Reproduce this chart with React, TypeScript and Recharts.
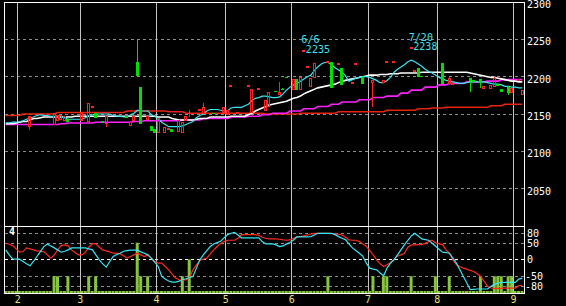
import React from 'react'
import { Bar, ComposedChart, Line, ReferenceArea, ReferenceDot, ReferenceLine, XAxis, YAxis } from 'recharts'

// first session of each month (index into the daily arrays) and its label
const monthLabels = ['2', '3', '4', '5', '6', '7', '8', '9']
const monthStarts = [4, 22, 44, 64, 83, 105, 125, 147]

const priceTicks = [2050, 2100, 2150, 2200, 2250, 2300]
const priceGrid = [2050, 2100, 2150, 2200, 2250]
const oscTicks = [80, 50, 0, -50, -80]

// moving averages, one value per session (150 sessions)
const cyanMA = [
  2138, 2138, 2139, 2139, 2140, 2141, 2143, 2145, 2146, 2148,
  2149, 2148, 2148, 2147, 2147, 2146, 2146, 2145, 2143, 2143,
  2143, 2143, 2143, 2145, 2148, 2149, 2150, 2150, 2150, 2150,
  2150, 2148, 2147, 2147, 2146, 2146, 2149, 2151, 2155, 2154,
  2154, 2154, 2149, 2147, 2144, 2139, 2136, 2133, 2133, 2133,
  2133, 2134, 2136, 2138, 2140, 2145, 2148, 2150, 2154, 2156,
  2156, 2156, 2155, 2154, 2154, 2158, 2159, 2159, 2159, 2161,
  2163, 2168, 2171, 2172, 2174, 2174, 2173, 2172, 2172, 2173,
  2177, 2182, 2186, 2189, 2191, 2194, 2197, 2200, 2202, 2208,
  2213, 2217, 2219, 2219, 2216, 2212, 2209, 2206, 2201, 2194,
  2196, 2198, 2199, 2200, 2200, 2199, 2197, 2195, 2192, 2192,
  2195, 2199, 2206, 2210, 2213, 2216, 2220, 2222, 2220, 2217,
  2214, 2210, 2207, 2205, 2202, 2199, 2197, 2195, 2194, 2193,
  2192, 2191, 2191, 2192, 2193, 2193, 2193, 2193, 2193, 2192,
  2191, 2190, 2190, 2189, 2187, 2187, 2186, 2186, 2185, 2185,
]
const whiteMA = [
  2137, 2137, 2137, 2138, 2139, 2140, 2140, 2142, 2144, 2144,
  2145, 2146, 2146, 2146, 2146, 2146, 2146, 2146, 2146, 2146,
  2147, 2147, 2147, 2147, 2147, 2147, 2147, 2147, 2147, 2147,
  2147, 2147, 2147, 2147, 2147, 2147, 2147, 2147, 2147, 2147,
  2147, 2147, 2147, 2147, 2146, 2146, 2146, 2146, 2144, 2143,
  2142, 2142, 2142, 2142, 2142, 2143, 2144, 2144, 2144, 2146,
  2146, 2146, 2146, 2146, 2146, 2147, 2147, 2147, 2147, 2147,
  2149, 2151, 2154, 2156, 2158, 2160, 2162, 2163, 2164, 2165,
  2166, 2167, 2169, 2171, 2172, 2174, 2177, 2179, 2181, 2183,
  2185, 2186, 2187, 2188, 2189, 2190, 2192, 2194, 2195, 2196,
  2197, 2198, 2199, 2200, 2201, 2202, 2202, 2202, 2203, 2203,
  2203, 2204, 2204, 2204, 2205, 2205, 2205, 2205, 2205, 2205,
  2206, 2206, 2206, 2206, 2206, 2206, 2206, 2206, 2206, 2206,
  2206, 2206, 2206, 2206, 2205, 2204, 2203, 2202, 2201, 2200,
  2199, 2199, 2198, 2197, 2196, 2195, 2194, 2194, 2193, 2193,
]
const magentaMA = [
  2136, 2136, 2136, 2136, 2136, 2136, 2136, 2136, 2136, 2136,
  2136, 2136, 2136, 2136, 2136, 2136, 2137, 2137, 2138, 2138,
  2138, 2138, 2138, 2138, 2138, 2138, 2139, 2139, 2139, 2139,
  2139, 2139, 2139, 2139, 2139, 2139, 2139, 2140, 2140, 2140,
  2141, 2141, 2141, 2141, 2141, 2141, 2141, 2141, 2141, 2141,
  2141, 2142, 2142, 2142, 2142, 2142, 2142, 2144, 2144, 2144,
  2144, 2144, 2144, 2144, 2144, 2146, 2146, 2146, 2146, 2146,
  2147, 2147, 2147, 2147, 2149, 2149, 2149, 2151, 2151, 2151,
  2151, 2151, 2154, 2154, 2154, 2154, 2157, 2157, 2157, 2157,
  2160, 2160, 2160, 2160, 2163, 2163, 2163, 2166, 2166, 2166,
  2166, 2166, 2169, 2169, 2169, 2169, 2172, 2172, 2172, 2172,
  2174, 2174, 2174, 2174, 2178, 2178, 2178, 2182, 2182, 2182,
  2182, 2186, 2186, 2186, 2186, 2189, 2189, 2189, 2191, 2191,
  2191, 2191, 2191, 2193, 2193, 2193, 2193, 2193, 2193, 2194,
  2194, 2194, 2194, 2196, 2196, 2196, 2196, 2196, 2196, 2196,
]
const redMA = [
  2148, 2148, 2148, 2148, 2148, 2150, 2150, 2150, 2150, 2150,
  2150, 2150, 2150, 2150, 2150, 2152, 2152, 2152, 2152, 2152,
  2152, 2152, 2152, 2152, 2152, 2152, 2152, 2152, 2152, 2152,
  2152, 2152, 2152, 2152, 2152, 2154, 2154, 2154, 2154, 2154,
  2154, 2154, 2154, 2154, 2154, 2154, 2154, 2153, 2153, 2153,
  2153, 2153, 2151, 2151, 2151, 2151, 2151, 2151, 2151, 2151,
  2151, 2151, 2151, 2151, 2151, 2151, 2151, 2151, 2151, 2151,
  2151, 2151, 2151, 2151, 2151, 2150, 2150, 2150, 2150, 2150,
  2150, 2150, 2150, 2150, 2150, 2151, 2151, 2151, 2151, 2151,
  2151, 2151, 2151, 2151, 2151, 2151, 2153, 2153, 2153, 2153,
  2153, 2153, 2153, 2153, 2153, 2153, 2153, 2153, 2153, 2153,
  2155, 2155, 2155, 2155, 2155, 2155, 2155, 2155, 2155, 2157,
  2157, 2157, 2157, 2158, 2158, 2158, 2158, 2159, 2159, 2159,
  2159, 2159, 2159, 2159, 2159, 2159, 2159, 2159, 2159, 2159,
  2161, 2161, 2161, 2161, 2163, 2163, 2163, 2163, 2163, 2163,
]

// sessions that actually traded
const candleDay = [
  7, 14, 15, 16, 17, 18, 22, 24, 25, 26, 28, 29, 35, 36, 37, 38, 39, 41, 42, 43,
  44, 46, 47, 48, 50, 51, 52, 53, 56, 57, 60, 63, 64, 65, 67, 70, 71, 73, 75, 76,
  78, 79, 80, 81, 83, 84, 85, 86, 87, 88, 89, 93, 94, 96, 97, 100, 101, 103, 106, 109,
  110, 112, 117, 118, 119, 120, 126, 128, 129, 134, 135, 137, 138, 140, 141, 142, 143, 145, 146, 148,
  149,
]
const candleOpen = [
  2133, 2135, 2141, 2142, 2140, 2143, 2141, 2139, 2159, 2151, 2141, 2137, 2147, 2134, 2141, 2220, 2186, 2142, 2134, 2130,
  2125, 2125, 2130, 2130, 2126, 2125, 2141, 2151, 2155, 2150, 2152, 2151, 2149, 2188, 2151, 2188, 2151, 2184, 2154, 2159,
  2181, 2176, 2184, 2199, 2182, 2197, 2182, 2235, 2213, 2186, 2198, 2220, 2220, 2216, 2212, 2192, 2217, 2200, 2192, 2192,
  2220, 2220, 2238, 2208, 2212, 2201, 2218, 2190, 2189, 2198, 2196, 2197, 2184, 2184, 2186, 2190, 2184, 2186, 2178, 2196,
  2176,
]
const candleHigh = [
  2147, 2151, 2149, 2149, 2147, 2143, 2153, 2165, 2159, 2151, 2141, 2147, 2147, 2139, 2147, 2250, 2186, 2147, 2134, 2130,
  2145, 2132, 2130, 2130, 2142, 2139, 2147, 2155, 2155, 2165, 2152, 2159, 2155, 2188, 2151, 2188, 2184, 2184, 2169, 2180,
  2181, 2193, 2185, 2199, 2197, 2197, 2200, 2235, 2213, 2198, 2218, 2220, 2220, 2218, 2212, 2192, 2217, 2200, 2196, 2196,
  2220, 2220, 2238, 2208, 2212, 2201, 2218, 2199, 2192, 2198, 2196, 2197, 2188, 2189, 2200, 2190, 2184, 2187, 2185, 2196,
  2182,
]
const candleLow = [
  2128, 2135, 2141, 2142, 2140, 2139, 2141, 2139, 2159, 2145, 2138, 2132, 2145, 2134, 2141, 2201, 2137, 2142, 2127, 2125,
  2125, 2125, 2130, 2126, 2126, 2125, 2141, 2146, 2155, 2150, 2151, 2151, 2149, 2188, 2151, 2188, 2151, 2184, 2154, 2159,
  2180, 2176, 2183, 2198, 2182, 2182, 2182, 2235, 2213, 2186, 2198, 2220, 2185, 2216, 2189, 2192, 2217, 2190, 2160, 2192,
  2220, 2220, 2238, 2208, 2200, 2200, 2190, 2189, 2189, 2180, 2193, 2185, 2184, 2184, 2186, 2188, 2180, 2176, 2178, 2196,
  2176,
]
const candleClose = [
  2147, 2151, 2149, 2149, 2147, 2139, 2151, 2165, 2159, 2145, 2138, 2147, 2145, 2139, 2147, 2201, 2137, 2147, 2127, 2125,
  2145, 2132, 2130, 2126, 2142, 2139, 2147, 2152, 2155, 2159, 2151, 2159, 2155, 2188, 2151, 2188, 2184, 2184, 2169, 2180,
  2180, 2180, 2183, 2198, 2197, 2182, 2200, 2235, 2213, 2198, 2218, 2220, 2185, 2218, 2189, 2192, 2217, 2190, 2196, 2196,
  2220, 2220, 2238, 2208, 2200, 2200, 2190, 2198, 2192, 2194, 2193, 2192, 2188, 2189, 2198, 2188, 2180, 2178, 2185, 2196,
  2182,
]

// annotated highs
const markDay = [86, 117]
const markDate = ['6/6', '7/20']
const markPrice = [2235, 2238]

// lower panel
const oscCyan = [
  30, 15, 3, 2, 2, -5, -12, -18, -5, 10,
  25, 40, 48, 42, 36, 30, 23, 26, 30, 36,
  36, 36, 36, 36, 33, 30, 15, 0, -12, -22,
  -5, 10, 16, 20, 26, 28, 29, 29, 29, 24,
  20, 15, 5, -8, -20, -50, -58, -64, -67, -67,
  -64, -60, -57, -54, -50, -25, 0, 15, 28, 40,
  48, 52, 56, 66, 76, 80, 83, 75, 66, 66,
  66, 66, 66, 66, 55, 48, 48, 48, 45, 40,
  42, 48, 52, 60, 69, 69, 69, 69, 70, 75,
  80, 80, 80, 80, 80, 76, 70, 65, 61, 48,
  36, 28, 20, 11, -10, -25, -28, -30, -40, -48,
  -25, -10, 0, 15, 30, 45, 59, 72, 80, 72,
  63, 61, 59, 50, 41, 32, 23, 22, 20, 5,
  -10, -30, -50, -70, -90, -89, -88, -88, -88, -88,
  -80, -74, -70, -68, -68, -68, -68, -68, -58, -55,
]
const oscRed = [
  50, 47, 43, 33, 23, 25, 36, 33, 30, 27,
  26, 25, 15, 5, 15, 30, 43, 45, 42, 30,
  22, 15, 15, 23, 38, 49, 48, 38, 30, 27,
  24, 20, 20, 18, 12, 5, 10, 15, 20, 15,
  10, 15, 5, -5, -10, -10, -20, -30, -43, -55,
  -60, -62, -60, -55, -30, -15, -2, 2, 5, 18,
  30, 40, 49, 55, 59, 59, 59, 65, 76, 76,
  76, 76, 76, 74, 68, 65, 63, 63, 63, 62,
  60, 59, 60, 65, 69, 70, 72, 75, 78, 80,
  80, 80, 80, 80, 79, 78, 77, 75, 68, 60,
  59, 59, 55, 48, 41, 28, 15, 0, -12, -20,
  -15, -8, 2, 11, 15, 20, 38, 45, 45, 46,
  46, 50, 55, 59, 51, 48, 46, 30, 20, 0,
  -15, -20, -25, -28, -32, -35, -42, -50, -65, -80,
  -85, -86, -86, -86, -85, -85, -85, -85, -78, -76,
]
const volume = [
  3, 3, 3, 3, 3, 3, 3, 3, 3, 3,
  3, 3, 3, 3, 25, 25, 3, 3, 25, 3,
  3, 3, 3, 3, 25, 3, 25, 3, 3, 3,
  3, 3, 3, 3, 3, 3, 3, 3, 75, 25,
  3, 25, 3, 3, 3, 3, 3, 3, 3, 3,
  3, 25, 3, 50, 3, 3, 3, 3, 3, 3,
  3, 3, 3, 3, 3, 3, 3, 3, 3, 3,
  3, 3, 3, 3, 3, 3, 3, 3, 3, 3,
  3, 3, 3, 3, 3, 3, 3, 3, 3, 3,
  3, 3, 3, 25, 3, 3, 3, 3, 3, 3,
  3, 3, 3, 3, 3, 3, 25, 3, 3, 25,
  25, 3, 3, 3, 3, 3, 3, 25, 3, 3,
  3, 3, 3, 3, 25, 3, 3, 3, 25, 3,
  3, 3, 3, 3, 3, 3, 3, 25, 3, 3,
  3, 25, 25, 25, 3, 25, 25, 3, 3, 3,
]

const rows = cyanMA.map((_, i) => {
  const k = candleDay.indexOf(i)
  return {
    day: i,
    cyan: cyanMA[i],
    white: whiteMA[i],
    magenta: magentaMA[i],
    red: redMA[i],
    open: k < 0 ? null : candleOpen[k],
    high: k < 0 ? null : candleHigh[k],
    low: k < 0 ? null : candleLow[k],
    close: k < 0 ? null : candleClose[k],
    range: k < 0 ? null : [candleLow[k], candleHigh[k]],
    osc1: oscCyan[i],
    osc2: oscRed[i],
    vol: volume[i],
  }
})

const FONT = 'DejaVu Sans Mono, monospace'
const UP = '#ff2323'
const DOWN = '#00e000'
const GRID_H = '#8c8c8c'
const GRID_V = '#c4c4c4'
const X_DOMAIN = [-0.5, 149.5]
const gridDays = monthStarts.map((d) => d - 0.5)

// candle drawn on whole pixels so the 3px bodies stay sharp
const Candle = (props: any) => {
  const { x, y, width, height, payload } = props
  if (!payload || payload.open == null) return <g />
  const { open, high, low, close } = payload
  const cx = x + width / 2
  const px = Math.floor(cx - 1)
  const wx = px + 1.5
  const top = Math.min(y, y + height)
  const h = Math.abs(height)
  if (high === low || h < 0.5) {
    return <rect x={px} y={Math.round(top) - 1} width={3} height={2} fill={UP} shapeRendering="crispEdges" />
  }
  const k = h / (high - low)
  const yHi = Math.round(top)
  const yLo = Math.round(top + h)
  const yTop = Math.round(top + (high - Math.max(open, close)) * k)
  const yBot = Math.max(yTop + 1, Math.round(top + (high - Math.min(open, close)) * k))
  const up = close >= open
  const color = up ? UP : DOWN
  return (
    <g>
      {yTop > yHi && <line x1={wx} x2={wx} y1={yHi} y2={yTop} stroke={color} />}
      {yLo > yBot && <line x1={wx} x2={wx} y1={yBot} y2={yLo} stroke={color} />}
      {up && yBot - yTop > 2 ? (
        <rect x={px + 0.5} y={yTop + 0.5} width={2} height={yBot - yTop - 1} fill="none" stroke={color} />
      ) : (
        <rect x={px} y={yTop} width={3} height={yBot - yTop} fill={color} shapeRendering="crispEdges" />
      )}
    </g>
  )
}

const PriceTick = ({ x, y, payload }: any) => (
  <text x={x} y={y + 6} fill="#fff" fontSize={10} fontFamily={FONT}>
    {payload.value}
  </text>
)

const OscTick = ({ x, y, payload }: any) => (
  <text x={payload.value < 0 ? x - 2 : x} y={y + 3.5} fill="#fff" fontSize={10} fontFamily={FONT}>
    {payload.value}
  </text>
)

const MonthTick = ({ x, y, payload }: any) => (
  <text x={x} y={y + 9.5} textAnchor="middle" fill="#e6e07a" fontSize={10} fontFamily={FONT}>
    {monthLabels[gridDays.indexOf(payload.value)]}
  </text>
)

const markLabel = (i: number) => (p: any) => {
  const { x, y } = p.viewBox
  return (
    <g fill="#3fe4f4" fontSize={10} fontFamily={FONT}>
      <text x={x - 2.5} y={y - 7.5}>{markDate[i]}</text>
      <text x={x + 2} y={y + 2}>{markPrice[i]}</text>
    </g>
  )
}

const panelNo = (p: any) => (
  <text x={p.viewBox.x + 5} y={p.viewBox.y + 9} fill="#fff" fontSize={10} fontWeight="bold" fontFamily={FONT}>
    4
  </text>
)

export default function App() {
  return (
    <div style={{ width: 566, height: 306, background: '#000', overflow: 'hidden' }}>
      <style>{'body{margin:0;background:#000}'}</style>
      <ComposedChart width={566} height={226} data={rows} margin={{ top: 2, right: 0, bottom: 0, left: 4 }}>
        <XAxis dataKey="day" type="number" domain={X_DOMAIN} hide />
        <YAxis
          orientation="right"
          domain={[2000, 2300]}
          allowDataOverflow
          ticks={priceTicks}
          interval={0}
          width={42}
          axisLine={false}
          tickLine={false}
          tickSize={0}
          tickMargin={3}
          tick={<PriceTick />}
        />
        {priceGrid.map((v) => (
          <ReferenceLine key={v} y={v} zIndex={-90} stroke={GRID_H} strokeDasharray="3 3" shapeRendering="crispEdges" />
        ))}
        {gridDays.map((d) => (
          <ReferenceLine key={d} x={d} zIndex={-90} stroke={GRID_V} shapeRendering="crispEdges" />
        ))}
        <Line dataKey="red" stroke="#e8230f" strokeWidth={1.6} dot={false} isAnimationActive={false} />
        <Line dataKey="magenta" stroke="#ff22ff" strokeWidth={1.6} dot={false} isAnimationActive={false} />
        <Line dataKey="white" stroke="#ffffff" strokeWidth={1.6} dot={false} isAnimationActive={false} />
        <Line dataKey="cyan" stroke="#3fe4f4" strokeWidth={1.2} dot={false} isAnimationActive={false} />
        <Bar dataKey="range" zIndex={450} barSize={3} shape={(p: any) => <Candle {...p} />} isAnimationActive={false} />
        {markDay.map((d, i) => (
          <ReferenceDot key={d} x={d} y={markPrice[i]} r={0} fill="none" stroke="none" label={markLabel(i)} />
        ))}
        <ReferenceArea
          x1={X_DOMAIN[0]}
          x2={X_DOMAIN[1]}
          y1={2000}
          y2={2300}
          zIndex={900}
          fill="none"
          stroke="#fff"
          strokeWidth={1}
          shapeRendering="crispEdges"
        />
      </ComposedChart>
      <ComposedChart width={566} height={80} data={rows} margin={{ top: 0, right: 0, bottom: 0, left: 4 }}>
        <XAxis
          dataKey="day"
          type="number"
          domain={X_DOMAIN}
          ticks={gridDays}
          interval={0}
          height={13}
          axisLine={false}
          tickLine={false}
          tickSize={0}
          tickMargin={0}
          tick={<MonthTick />}
        />
        <YAxis
          yAxisId="osc"
          orientation="right"
          domain={[-100, 102]}
          allowDataOverflow
          ticks={oscTicks}
          interval={0}
          width={42}
          axisLine={false}
          tickLine={false}
          tickSize={0}
          tickMargin={3}
          tick={<OscTick />}
        />
        <YAxis yAxisId="vol" domain={[0, 100]} hide />
        {oscTicks.map((v) => (
          <ReferenceLine
            key={v}
            yAxisId="osc"
            y={v}
            zIndex={-90}
            stroke={v === 0 ? '#ffffff' : GRID_H}
            strokeDasharray="3 3"
            shapeRendering="crispEdges"
          />
        ))}
        {gridDays.map((d) => (
          <ReferenceLine key={d} yAxisId="osc" x={d} zIndex={-90} stroke={GRID_V} shapeRendering="crispEdges" />
        ))}
        <Bar yAxisId="vol" dataKey="vol" barSize={3} fill="#88c53e" isAnimationActive={false} />
        <Line yAxisId="osc" dataKey="osc2" stroke="#ff2a1a" strokeWidth={1.2} dot={false} isAnimationActive={false} />
        <Line yAxisId="osc" dataKey="osc1" stroke="#35e6f6" strokeWidth={1.2} dot={false} isAnimationActive={false} />
        <ReferenceArea
          yAxisId="osc"
          x1={X_DOMAIN[0]}
          x2={X_DOMAIN[1]}
          y1={-100}
          y2={102}
          zIndex={900}
          fill="none"
          stroke="#fff"
          strokeWidth={1}
          shapeRendering="crispEdges"
          label={panelNo}
        />
      </ComposedChart>
    </div>
  )
}
